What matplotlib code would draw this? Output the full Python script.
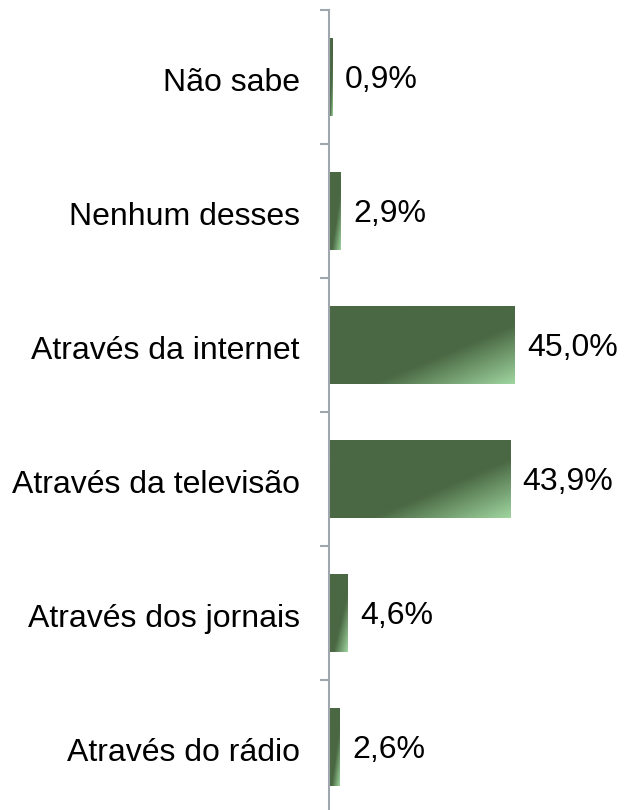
import numpy as np
import matplotlib.pyplot as plt
from matplotlib.colors import LinearSegmentedColormap

# categorias de baixo para cima
categorias = ['Através do rádio', 'Através dos jornais', 'Através da televisão',
              'Através da internet', 'Nenhum desses', 'Não sabe']
valores = [2.6, 4.6, 43.9, 45.0, 2.9, 0.9]
rotulos = ['2,6%', '4,6%', '43,9%', '45,0%', '2,9%', '0,9%']

plt.rcParams['font.family'] = ['Liberation Sans', 'DejaVu Sans']

fig = plt.figure(figsize=(6.25, 8.1), dpi=100)
ax = fig.add_axes([329 / 625, 1 - 814 / 810, 1 - 329 / 625, 804 / 810])

# gradiente diagonal: verde escuro até o canto inferior direito mais claro
cmap = LinearSegmentedColormap.from_list('g', [(0, '#4a6843'), (0.62, '#4a6843'), (1, '#9fd59f')])
uu, ww = np.meshgrid(np.linspace(0, 1, 200), np.linspace(0, 1, 100))
grad = (uu + ww) / 2

altura = 0.58
y = np.arange(len(categorias))
barras = ax.barh(y, valores, height=altura, color='none', edgecolor='none')
for b in barras:
    x0, y0 = b.get_x(), b.get_y()
    w, h = b.get_width(), b.get_height()
    im = ax.imshow(grad, cmap=cmap, vmin=0, vmax=1, aspect='auto',
                   extent=[x0, x0 + w, y0, y0 + h], origin='upper', zorder=2)
    im.set_clip_path(b)

for yi, v, r in zip(y, valores, rotulos):
    ax.annotate(r, (v, yi - 0.02), xytext=(9, 0), textcoords='offset points',
                va='center', ha='left', fontsize=23)

ax.set_xlim(0, 71.7)
ax.set_ylim(-0.5, len(categorias) - 0.5)
ax.set_yticks(y - 0.02)
ax.set_yticklabels(categorias, fontsize=23)
ax.set_yticks(np.arange(-0.5, len(categorias)), minor=True)
ax.tick_params(axis='y', which='major', length=0, pad=21)
ax.tick_params(axis='y', which='minor', length=6.5, width=1.5, color='#a0a6ae', direction='out')
ax.set_xticks([])
for s in ['top', 'right', 'bottom']:
    ax.spines[s].set_visible(False)
ax.spines['left'].set_color('#a0a6ae')
ax.spines['left'].set_linewidth(1.5)
ax.set_facecolor('none')

fig.savefig('out.png', dpi=100)
